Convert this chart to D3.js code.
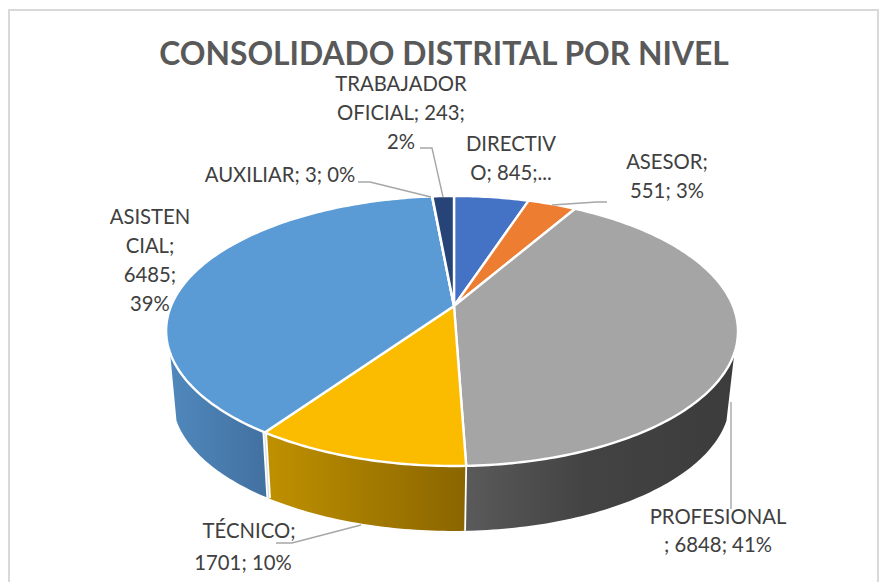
<!DOCTYPE html>
<html><head><meta charset="utf-8">
<script src="https://cdn.jsdelivr.net/npm/d3@7"></script>
<style>html,body{margin:0;padding:0;background:#fff}svg{display:block}</style>
</head><body><svg id="c" width="886" height="582"></svg>
<script>
// ---- data ----
const categories = ["DIRECTIVO","ASESOR","PROFESIONAL","TÉCNICO","ASISTENCIAL","AUXILIAR","TRABAJADOR OFICIAL"];
const values = [845,551,6848,1701,6485,3,243];
const colors = ["#4472C4","#ED7D31","#A5A5A5","#FBBC00","#5B9BD5","#70AD47","#264478"];
const title = "CONSOLIDADO DISTRITAL POR NIVEL";
const labelLines = [
  ["DIRECTIV","O; 845;..."],
  ["ASESOR;","551; 3%"],
  ["PROFESIONAL","; 6848; 41%"],
  ["TÉCNICO;","1701; 10%"],
  ["ASISTEN","CIAL;","6485;","39%"],
  ["AUXILIAR; 3; 0%"],
  ["TRABAJADOR","OFICIAL; 243;","2%"]
];
// ---- layout ----
const labelCentreX = [[511,511],[667,667],[718,718],[249,243],[150,150,150,150],[280],[401,401,401]];
const labelFirstY = [144,162,517,531,217,175,84];
const lineStep = [29,29,28,32,29,29,29];
const leaders = [
  null,
  [[607,202],[597,202],[552,205]],
  [[731,402],[731,509]],
  [[276,543],[292,543],[361,525]],
  null,
  [[358,182],[370,182],[431,197]],
  [[420,148],[432,148],[443,197]]
];
const wallStops = [
  null,null,
  [["0","#5a5a5a"],["0.45","#434343"],["1","#3c3c3c"]],
  [["0","#bf9100"],["1","#8a6500"]],
  [["0","#5088bc"],["1","#4270a0"]],
  null,null
];
const geo = {x0:454,y0:306,r:281,h:130.4,k:0.185,side:-2,s:0.9747,xC:452,xB:451.25,yB:375,tanR:1.915,tanL:4.368};

const svg = d3.select("#c");
svg.append("rect").attr("x",9).attr("y",10).attr("width",869).attr("height",600)
  .attr("fill","#fff").attr("stroke","#d9d9d9").attr("stroke-width",2);

const arcs = d3.pie().sort(null).value(d=>d)(values);

function topPt(a){const d=1+geo.k*Math.cos(a), sn=Math.sin(a);
  return [geo.x0+geo.r*sn/d+geo.side*sn*sn, geo.y0-geo.h*Math.cos(a)/d];}
function bottomPt(a){const p=topPt(a);
  return [geo.xB+geo.s*(p[0]-geo.xC), geo.yB+geo.s*(p[1]-geo.y0)];}
const line = d3.line();
function angles(a0,a1){const n=Math.max(2,Math.ceil((a1-a0)*60));
  return d3.range(n+1).map(i=>a0+(a1-a0)*i/n);}

const defs = svg.append("defs");
const walls = svg.append("g"), seams = svg.append("g"), faces = svg.append("g");

// only the part of each wall between the two silhouette tangents shows
[4,3,2].forEach(i=>{
  const d=arcs[i], as=angles(Math.max(d.startAngle,geo.tanR),Math.min(d.endAngle,geo.tanL));
  const t=as.map(topPt), b=as.map(bottomPt);
  const xs=t.concat(b).map(p=>p[0]);
  const g=defs.append("linearGradient").attr("id","w"+i).attr("gradientUnits","userSpaceOnUse")
    .attr("x1",d3.min(xs)).attr("x2",d3.max(xs)).attr("y1",0).attr("y2",0);
  wallStops[i].forEach(s=>g.append("stop").attr("offset",s[0]).attr("stop-color",s[1]));
  walls.append("path").attr("d",line(t.concat(b.reverse()))+"Z").attr("fill",`url(#w${i})`);
});

// white seams where the front walls meet
const seam=(a,w,c)=>seams.append("path").attr("d",line([topPt(a),bottomPt(a)]))
  .attr("fill","none").attr("stroke",c).attr("stroke-width",w);
seam(arcs[2].endAngle,1.8,"#fff");
seam(arcs[3].endAngle,4.5,"#fff");
seam(arcs[3].endAngle,1,"#cddbeb");

arcs.forEach((d,i)=>{
  faces.append("path").attr("d",line([[geo.x0,geo.y0]].concat(angles(d.startAngle,d.endAngle).map(topPt)))+"Z")
    .attr("fill",colors[i]).attr("stroke","#fff").attr("stroke-width",2.4).attr("stroke-linejoin","round");
});

const lead = svg.append("g").attr("fill","none").attr("stroke","#a6a6a6").attr("stroke-width",1.4);
leaders.forEach(l=>{ if(l) lead.append("path").attr("d",line(l)); });

svg.append("text").attr("x",444).attr("y",65).attr("text-anchor","middle")
  .attr("font-family","Lato, 'Open Sans', sans-serif").attr("font-weight",700).attr("font-size",31.8)
  .attr("fill","#595959").text(title);

const lab = svg.append("g").attr("font-family","Lato, 'Open Sans', sans-serif").attr("font-size",20.3)
  .attr("fill","#404040").attr("text-anchor","middle");
labelLines.forEach((ls,i)=>ls.forEach((s,j)=>{
  lab.append("text").attr("x",labelCentreX[i][j]).attr("y",labelFirstY[i]+j*lineStep[i]).attr("dy","0.35em").text(s);
}));
</script></body></html>
